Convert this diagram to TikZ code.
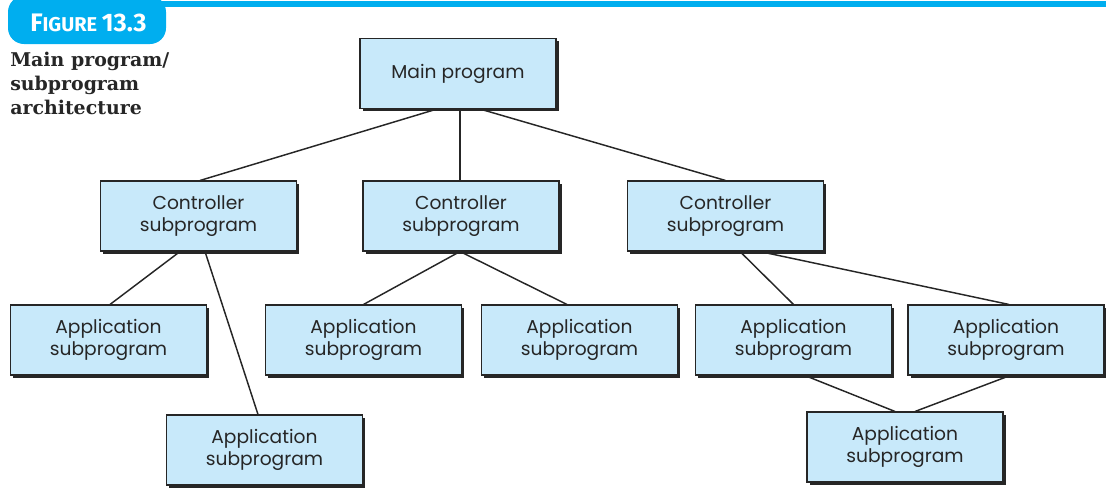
\documentclass[tikz,border=0pt]{standalone}
\usepackage{fontspec}
\setmainfont{Poppins}
\newfontfamily\capfont{DejaVu Serif}
\newfontfamily\tabfont{Fira Sans}
\usetikzlibrary{calc,shadows,backgrounds}
\definecolor{boxfill}{HTML}{C8E9FA}
\definecolor{figblue}{HTML}{00AEEF}
\begin{document}
\begin{tikzpicture}[x=0.75pt,y=-0.75pt,
  unitbox/.style={draw=black!85, line width=0.8pt, fill=boxfill,
    minimum width=147pt, minimum height=52.5pt, inner sep=0pt, align=center,
    font=\fontsize{14}{17}\selectfont, text=black!85,
    general shadow={fill=black!85, shadow xshift=2.2pt, shadow yshift=-2.2pt}},
  link/.style={line width=1.1pt, draw=black!85}]
\useasboundingbox (0,0) rectangle (1106,490);

% title tab and rule
\fill[figblue] (100,1) rectangle (1106,7);
\fill[figblue, rounded corners=12pt] (8,-4) rectangle (166,44);
\node[anchor=west, text=white, font=\tabfont\bfseries, inner sep=0pt] (tab) at (30,23)
  {{\fontsize{19}{19}\selectfont F}{\fontsize{15}{15}\selectfont IGURE}\hspace{0.35em}{\fontsize{19}{19}\selectfont 13.3}};
\node[anchor=north west, align=left, inner sep=0pt, text=black!85,
  font=\capfont\bfseries\fontsize{14.2}{18}\selectfont] (caption) at (10,52)
  {Main program/\\subprogram\\architecture};

% modules
\node[unitbox] (main) at (458,73.5) {Main program};
\node[unitbox] (c1) at (198.5,216) {Controller\\subprogram};
\node[unitbox] (c2) at (461,216) {Controller\\subprogram};
\node[unitbox] (c3) at (725.5,216) {Controller\\subprogram};
\node[unitbox] (a1) at (108.5,340) {Application\\subprogram};
\node[unitbox] (a2) at (363.5,340) {Application\\subprogram};
\node[unitbox] (a3) at (579.5,340) {Application\\subprogram};
\node[unitbox] (a4) at (793.5,340) {Application\\subprogram};
\node[unitbox] (a5) at (1006,340) {Application\\subprogram};
\node[unitbox] (a6) at (264.5,450) {Application\\subprogram};
\node[unitbox] (a7) at (905,447) {Application\\subprogram};

% calls
\begin{scope}[on background layer]
\draw[link] ($(main.south)+(-21,0)$) -- ($(c1.north)+(1.5,0)$);
\draw[link] ($(main.south)+(2,0)$) -- ($(c2.north)+(-1,0)$);
\draw[link] ($(main.south)+(22,0)$) -- (c3.north);
\draw[link] ($(c1.south)+(-18.5,0)$) -- ($(a1.north)+(1.5,0)$);
\draw[link] ($(c1.south)+(6.5,0)$) -- ($(a6.north)+(-6.5,0)$);
\draw[link] ($(c2.south)+(-1,0)$) -- (a2.north);
\draw[link] ($(c2.south)+(-1,0)$) -- ($(a3.north)+(-12.5,0)$);
\draw[link] ($(c3.south)+(14.5,0)$) -- (a4.north);
\draw[link] ($(c3.south)+(34.5,0)$) -- ($(a5.north)+(3,0)$);
\draw[link] ($(a4.south)+(11.5,0)$) -- ($(a7.north)+(-10,0)$);
\draw[link] ($(a5.south)+(4,0)$) -- ($(a7.north)+(10,0)$);
\end{scope}
\end{tikzpicture}
\end{document}
